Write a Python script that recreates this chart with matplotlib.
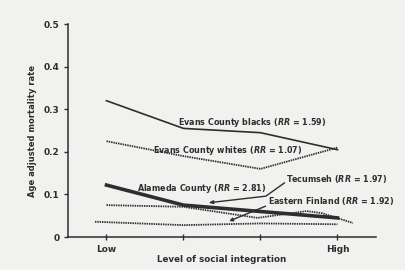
import matplotlib.pyplot as plt

# niveaux d'integration sociale (1 = Low, 4 = High)
x_niveaux = [1, 2, 3, 4]
x_labels = ["Low", "", "", "High"]

evans_noirs = [0.32, 0.255, 0.245, 0.205]
evans_blancs = [0.225, 0.19, 0.16, 0.21]
alameda = [0.122, 0.075, 0.06, 0.045]

tecumseh_x = [1, 2, 2.96, 3.6, 3.8, 4.2]
tecumseh = [0.075, 0.071, 0.045, 0.061, 0.056, 0.033]

finlande_x = [0.85, 2, 3, 4]
finlande = [0.036, 0.028, 0.032, 0.03]

fond = "#f1f1ef"
encre = "#2e2e2e"

fig = plt.figure(figsize=(4.06, 2.70), dpi=100, facecolor=fond)
ax = fig.add_axes([0.1675, 0.122, 0.7585, 0.789], facecolor=fond)

pointille = (0, (0.8, 0.5))
ax.plot(x_niveaux, evans_noirs, color=encre, lw=1.2)
ax.plot(x_niveaux, evans_blancs, color=encre, lw=1.3, linestyle=pointille)
ax.plot(x_niveaux, alameda, color=encre, lw=2.6)
ax.plot(tecumseh_x, tecumseh, color=encre, lw=1.3, linestyle=pointille)
ax.plot(finlande_x, finlande, color=encre, lw=1.3, linestyle=pointille)

RR = r"$\mathbfit{RR}$"
police = dict(fontsize=5.8, fontweight="bold", color=encre, va="center", ha="left")
ax.text(1.93, 0.27, "Evans County blacks (" + RR + " = 1.59)", **police)
ax.text(1.6, 0.202, "Evans County whites (" + RR + " = 1.07)", **police)
ax.text(1.39, 0.113, "Alameda County (" + RR + " = 2.81)", **police)
ax.text(3.33, 0.136, "Tecumseh (" + RR + " = 1.97)", **police)
ax.text(3.1, 0.085, "Eastern Finland (" + RR + " = 1.92)", **police)

# traits de rappel vers les courbes
ax.plot([3.31, 3.07, 2.35], [0.127, 0.096, 0.081], color=encre, lw=1.0)
ax.annotate("", xy=(2.3, 0.08), xytext=(2.4, 0.082),
            arrowprops=dict(arrowstyle="-|>", color=encre, lw=1.0, mutation_scale=5))
ax.annotate("", xy=(2.56, 0.035), xytext=(3.1, 0.075),
            arrowprops=dict(arrowstyle="-|>", color=encre, lw=1.0, mutation_scale=5))

ax.set_xlim(0.5, 4.5)
ax.set_ylim(0, 0.5)
ax.set_xticks(x_niveaux)
ax.set_xticklabels(x_labels)
ax.set_yticks([0, 0.1, 0.2, 0.3, 0.4, 0.5])
ax.set_yticklabels(["0", "0.1", "0.2", "0.3", "0.4", "0.5"])

for s in ["top", "right"]:
    ax.spines[s].set_visible(False)
for s in ["left", "bottom"]:
    ax.spines[s].set_color(encre)
    ax.spines[s].set_linewidth(1.1)

ax.tick_params(axis="x", direction="inout", length=5, width=1, colors=encre, labelsize=6.5, pad=3)
ax.tick_params(axis="y", direction="out", length=3, width=1, colors=encre, labelsize=6.5, pad=3)
for lab in ax.get_xticklabels() + ax.get_yticklabels():
    lab.set_fontweight("bold")

ax.set_xlabel("Level of social integration", fontsize=6.3, fontweight="bold", color=encre, labelpad=1)
ax.set_ylabel("Age adjusted mortality rate", fontsize=6.0, fontweight="bold", color=encre, labelpad=5)

fig.savefig("out.png", dpi=100, facecolor=fond)
